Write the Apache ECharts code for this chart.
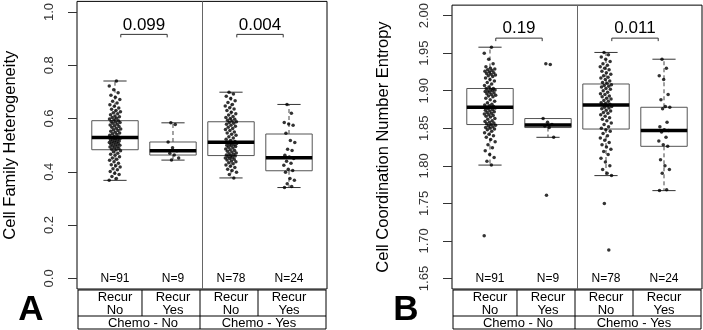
<!DOCTYPE html>
<html>
<head>
<meta charset="utf-8">
<script src="https://cdn.jsdelivr.net/npm/echarts@6/dist/echarts.min.js"></script>
<style>
html, body { margin: 0; padding: 0; background: #fff; }
#chart { width: 703px; height: 330px; }
</style>
</head>
<body>
<div id="chart"></div>
<script>
// groups: 1 Chemo-No/Recur-No, 2 Chemo-No/Recur-Yes, 3 Chemo-Yes/Recur-No, 4 Chemo-Yes/Recur-Yes
var recurLabels = ["Recur\nNo", "Recur\nYes", "Recur\nNo", "Recur\nYes"];
var chemoLabels = ["Chemo - No", "Chemo - Yes"];
var nLabels = ["N=91", "N=9", "N=78", "N=24"];

var ticksA = [0, 0.2, 0.4, 0.6, 0.8, 1.0];
var ticksB = [1.65, 1.70, 1.75, 1.80, 1.85, 1.90, 1.95, 2.00];

var pA = ["0.099", "0.004"];
var pB = ["0.19", "0.011"];

// box stats: [min, q1, median, q3, max]
var boxA = [
  [0.368, 0.483, 0.529, 0.592, 0.741],
  [0.444, 0.463, 0.479, 0.512, 0.584],
  [0.377, 0.461, 0.511, 0.588, 0.699],
  [0.341, 0.404, 0.453, 0.542, 0.653]
];
var boxB = [
  [1.801, 1.855, 1.878, 1.903, 1.958],
  [1.838, 1.851, 1.8545, 1.863, 1.863],
  [1.787, 1.849, 1.881, 1.909, 1.951],
  [1.767, 1.826, 1.847, 1.878, 1.942]
];

// Cell Family Heterogeneity, per patient
var hetA1 = [0.368, 0.375, 0.382, 0.390, 0.395, 0.401, 0.408, 0.412, 0.418, 0.423, 0.427, 0.432, 0.438, 0.443, 0.447, 0.452, 0.457, 0.462, 0.466, 0.470, 0.475, 0.479,
  0.483, 0.485, 0.488, 0.490, 0.493, 0.495, 0.497, 0.500, 0.502, 0.504, 0.506, 0.508, 0.510, 0.512, 0.514, 0.516, 0.518, 0.520, 0.522, 0.524, 0.526, 0.527, 0.529,
  0.531, 0.534, 0.537, 0.540, 0.543, 0.546, 0.549, 0.552, 0.555, 0.558, 0.561, 0.564, 0.567, 0.570, 0.573, 0.576, 0.579, 0.582, 0.585, 0.587, 0.589, 0.592,
  0.595, 0.598, 0.601, 0.604, 0.607, 0.610, 0.614, 0.618, 0.622, 0.626, 0.630, 0.635, 0.640, 0.646, 0.652, 0.658, 0.665, 0.672, 0.680, 0.688, 0.697, 0.708, 0.722, 0.741];
var hetA2 = [0.444, 0.452, 0.463, 0.470, 0.479, 0.490, 0.512, 0.578, 0.584];
var hetA3 = [0.377, 0.390, 0.398, 0.405, 0.410, 0.416, 0.421, 0.426, 0.430, 0.434, 0.438, 0.441, 0.444, 0.447, 0.450, 0.452, 0.455, 0.457, 0.459,
  0.461, 0.463, 0.466, 0.468, 0.471, 0.474, 0.477, 0.480, 0.483, 0.486, 0.489, 0.492, 0.495, 0.498, 0.500, 0.502, 0.504, 0.506, 0.508, 0.511,
  0.514, 0.518, 0.522, 0.527, 0.532, 0.537, 0.541, 0.546, 0.550, 0.555, 0.559, 0.563, 0.567, 0.571, 0.575, 0.579, 0.582, 0.585, 0.588,
  0.591, 0.594, 0.597, 0.600, 0.604, 0.608, 0.613, 0.618, 0.624, 0.630, 0.636, 0.641, 0.647, 0.653, 0.660, 0.667, 0.675, 0.684, 0.692, 0.699];
var hetA4 = [0.341, 0.345, 0.355, 0.368, 0.375, 0.398, 0.405, 0.410, 0.425, 0.432, 0.440, 0.450,
  0.456, 0.462, 0.480, 0.485, 0.510, 0.518, 0.545, 0.575, 0.580, 0.585, 0.620, 0.653];

// Cell Coordination Number Entropy, per patient
var entB1 = [1.707, 1.801, 1.806, 1.811, 1.815, 1.820, 1.824, 1.828, 1.832, 1.835, 1.838, 1.840, 1.842, 1.844, 1.846, 1.848, 1.849, 1.850, 1.851, 1.852, 1.853, 1.854, 1.855,
  1.856, 1.857, 1.858, 1.859, 1.860, 1.862, 1.863, 1.865, 1.866, 1.867, 1.868, 1.869, 1.870, 1.871, 1.872, 1.873, 1.874, 1.875, 1.876, 1.877, 1.878, 1.878,
  1.879, 1.880, 1.881, 1.882, 1.884, 1.886, 1.888, 1.890, 1.892, 1.893, 1.894, 1.895, 1.896, 1.897, 1.898, 1.899, 1.900, 1.900, 1.901, 1.902, 1.903, 1.903,
  1.905, 1.907, 1.909, 1.911, 1.913, 1.915, 1.917, 1.919, 1.920, 1.921, 1.922, 1.923, 1.924, 1.925, 1.926, 1.927, 1.928, 1.929, 1.930, 1.932, 1.936, 1.942, 1.950, 1.958];
var entB2 = [1.761, 1.838, 1.851, 1.853, 1.855, 1.858, 1.863, 1.935, 1.936];
var entB3 = [1.688, 1.750, 1.787, 1.790, 1.795, 1.800, 1.805, 1.810, 1.815, 1.819, 1.822, 1.825, 1.828, 1.831, 1.834, 1.837, 1.840, 1.843, 1.846, 1.848,
  1.850, 1.852, 1.855, 1.857, 1.860, 1.862, 1.864, 1.866, 1.868, 1.870, 1.871, 1.873, 1.874, 1.876, 1.877, 1.878, 1.879, 1.880, 1.881,
  1.882, 1.883, 1.884, 1.886, 1.887, 1.889, 1.890, 1.892, 1.893, 1.895, 1.896, 1.898, 1.900, 1.902, 1.903, 1.905, 1.906, 1.907, 1.908,
  1.910, 1.911, 1.913, 1.915, 1.917, 1.918, 1.920, 1.922, 1.924, 1.926, 1.928, 1.930, 1.932, 1.934, 1.936, 1.939, 1.942, 1.945, 1.948, 1.951];
var entB4 = [1.767, 1.768, 1.790, 1.795, 1.800, 1.808, 1.826, 1.828, 1.833, 1.838, 1.845, 1.847,
  1.848, 1.852, 1.858, 1.876, 1.878, 1.879, 1.888, 1.895, 1.915, 1.920, 1.930, 1.942];

var FONT = "'Liberation Sans', Arial, sans-serif";
var gridA = { left: 77, top: 1, width: 250, height: 288 };
var gridB = { left: 452, top: 1, width: 250, height: 288 };

// spread the points sideways like R's jitter (fixed pattern, not random)
function strip(groups) {
  var out = [];
  groups.forEach(function (vals, g) {
    vals.forEach(function (v, j) {
      var off = (((j * 0.6180339887 + g * 0.37) % 1) - 0.5) * 0.2;
      out.push([g + 1 + off, v]);
    });
  });
  return out;
}

function drawBox(params, api) {
  var x = api.value(0);
  var w = api.size([0.8, 0])[0];
  var pMin = api.coord([x, api.value(1)]);
  var pQ1 = api.coord([x, api.value(2)]);
  var pMed = api.coord([x, api.value(3)]);
  var pQ3 = api.coord([x, api.value(4)]);
  var pMax = api.coord([x, api.value(5)]);
  var cx = pMed[0];
  var dash = { stroke: "#444", lineWidth: 1, lineDash: [4, 3] };
  var solid = { stroke: "#333", lineWidth: 1 };
  return {
    type: "group",
    children: [
      { type: "line", shape: { x1: cx, y1: pQ3[1], x2: cx, y2: pMax[1] }, style: dash },
      { type: "line", shape: { x1: cx, y1: pQ1[1], x2: cx, y2: pMin[1] }, style: dash },
      { type: "line", shape: { x1: cx - w / 4, y1: pMax[1], x2: cx + w / 4, y2: pMax[1] }, style: solid },
      { type: "line", shape: { x1: cx - w / 4, y1: pMin[1], x2: cx + w / 4, y2: pMin[1] }, style: solid },
      { type: "rect", shape: { x: cx - w / 2, y: pQ3[1], width: w, height: pQ1[1] - pQ3[1] },
        style: { fill: "#fff", stroke: "#555", lineWidth: 1 } },
      { type: "line", shape: { x1: cx - w / 2, y1: pMed[1], x2: cx + w / 2, y2: pMed[1] },
        style: { stroke: "#000", lineWidth: 3.5 } }
    ]
  };
}

function bracketRenderer(texts) {
  return function (params, api) {
    var g = api.value(0);
    var cs = params.coordSys;
    var x1 = api.coord([g + 0.1, 0])[0];
    var x2 = api.coord([g + 0.9, 0])[0];
    var y = cs.y + 33;
    return {
      type: "group",
      children: [
        { type: "polyline", shape: { points: [[x1, y + 3], [x1, y], [x2, y], [x2, y + 3]] },
          style: { stroke: "#333", lineWidth: 1, fill: null } },
        { type: "text", x: (x1 + x2) / 2, y: y - 1,
          style: { text: texts[params.dataIndex], font: "17px " + FONT, fill: "#000",
                   align: "center", verticalAlign: "bottom" } }
      ]
    };
  };
}

function countRenderer(params, api) {
  var cs = params.coordSys;
  var x = api.coord([api.value(0), 0])[0];
  return {
    type: "text", x: x, y: cs.y + cs.height - 10,
    style: { text: nLabels[params.dataIndex], font: "12px " + FONT, fill: "#000",
             align: "center", verticalAlign: "middle" }
  };
}

function yAxis(idx, min, max, ticks, digits, name, gap) {
  return {
    type: "value", gridIndex: idx, min: min, max: max,
    name: name, nameLocation: "middle", nameRotate: 90, nameGap: gap,
    nameTextStyle: { fontFamily: FONT, fontSize: 16.5, color: "#000" },
    axisLine: { show: false },
    axisTick: { show: true, length: 9, customValues: ticks, lineStyle: { color: "#333" } },
    axisLabel: { customValues: ticks, rotate: 90, margin: 21, fontFamily: FONT, fontSize: 13,
                 color: "#333", formatter: function (v) { return v.toFixed(digits); } },
    splitLine: { show: false }
  };
}

function xAxis(idx) {
  return { type: "value", gridIndex: idx, min: 0.345, max: 4.655, show: false };
}

var divider = {
  symbol: "none", silent: true, label: { show: false },
  lineStyle: { color: "#666", type: "solid", width: 1 },
  data: [{ xAxis: 2.5 }]
};

var groupIdx = [[1], [2], [3], [4]];
var chart = echarts.init(document.getElementById("chart"));
chart.setOption({
  animation: false,
  grid: [
    Object.assign({ show: true, borderColor: "#000", borderWidth: 1 }, gridA),
    Object.assign({ show: true, borderColor: "#000", borderWidth: 1 }, gridB)
  ],
  xAxis: [xAxis(0), xAxis(1)],
  yAxis: [
    yAxis(0, -0.04, 1.04, ticksA, 1, "Cell Family Heterogeneity", 58),
    yAxis(1, 1.636, 2.014, ticksB, 2, "Cell Coordination Number Entropy", 60)
  ],
  series: [
    { type: "custom", xAxisIndex: 0, yAxisIndex: 0, renderItem: drawBox, z: 2,
      data: boxA.map(function (b, i) { return [i + 1].concat(b); }), markLine: divider },
    { type: "custom", xAxisIndex: 1, yAxisIndex: 1, renderItem: drawBox, z: 2,
      data: boxB.map(function (b, i) { return [i + 1].concat(b); }), markLine: divider },
    { type: "scatter", xAxisIndex: 0, yAxisIndex: 0, z: 3, symbolSize: 3.5,
      itemStyle: { color: "#000" }, data: strip([hetA1, hetA2, hetA3, hetA4]) },
    { type: "scatter", xAxisIndex: 1, yAxisIndex: 1, z: 3, symbolSize: 3.5,
      itemStyle: { color: "#000" }, data: strip([entB1, entB2, entB3, entB4]) },
    { type: "custom", xAxisIndex: 0, yAxisIndex: 0, renderItem: bracketRenderer(pA), data: [[1], [3]] },
    { type: "custom", xAxisIndex: 1, yAxisIndex: 1, renderItem: bracketRenderer(pB), data: [[1], [3]] },
    { type: "custom", xAxisIndex: 0, yAxisIndex: 0, renderItem: countRenderer, data: groupIdx },
    { type: "custom", xAxisIndex: 1, yAxisIndex: 1, renderItem: countRenderer, data: groupIdx }
  ]
});

// category table under each panel, plus the panel letters
function table(axisIdx, grid, letter) {
  var px = function (v) { return chart.convertToPixel({ xAxisIndex: axisIdx }, v); };
  var left = grid.left + 1, right = grid.left + grid.width - 1;
  var top = grid.top + grid.height + 1, mid = top + 26, bot = top + 39;
  var line = function (x1, y1, x2, y2) {
    return { type: "line", shape: { x1: x1, y1: y1, x2: x2, y2: y2 }, style: { stroke: "#000", lineWidth: 1 } };
  };
  var els = [
    { type: "rect", shape: { x: left, y: top, width: right - left, height: bot - top },
      style: { fill: null, stroke: "#000", lineWidth: 1 } },
    line(left, mid, right, mid),
    line(px(1.5) - 2, top, px(1.5) - 2, mid),
    line(px(2.5) - 2, top, px(2.5) - 2, bot),
    line(px(3.5) - 2, top, px(3.5) - 2, mid)
  ];
  recurLabels.forEach(function (t, i) {
    els.push({ type: "text", x: px(i + 1), y: top + 1,
      style: { text: t, font: "13px " + FONT, lineHeight: 13, fill: "#000", align: "center", verticalAlign: "top" } });
  });
  chemoLabels.forEach(function (t, i) {
    els.push({ type: "text", x: px(2 * i + 1.5) - 1, y: (mid + bot) / 2 + 0.5,
      style: { text: t, font: "13px " + FONT, fill: "#000", align: "center", verticalAlign: "middle" } });
  });
  els.push({ type: "text", x: grid.left - 46, y: 328,
    style: { text: letter, font: "bold 35px " + FONT, fill: "#000", align: "center", verticalAlign: "bottom" } });
  return els;
}

chart.setOption({ graphic: table(0, gridA, "A").concat(table(1, gridB, "B")) });
</script>
</body>
</html>
